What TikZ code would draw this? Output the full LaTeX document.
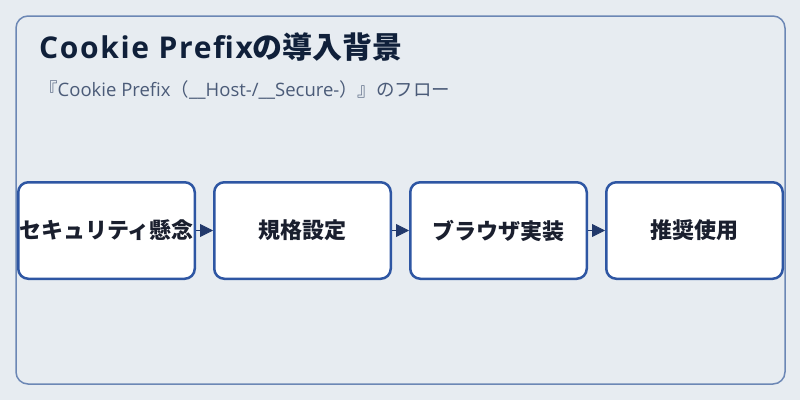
\documentclass[tikz,border=0pt]{standalone}
\usepackage{fontspec}
\setmainfont{Open Sans}
\newfontfamily\cjk{Noto Sans CJK JP}
\usetikzlibrary{arrows.meta,positioning}

\definecolor{pagebg}{HTML}{E7ECF1}
\definecolor{frameline}{HTML}{6C87B5}
\definecolor{boxline}{HTML}{2E56A3}
\definecolor{arrowcol}{HTML}{22396B}
\definecolor{titlecol}{HTML}{10203A}
\definecolor{subcol}{HTML}{4B5B78}
\definecolor{textcol}{HTML}{1A1F2E}

\tikzset{
  stage/.style={draw=boxline, line width=2.5pt, fill=white, rounded corners=10pt,
    minimum width=176.5pt, minimum height=96.5pt, inner sep=0pt,
    text=textcol, font=\cjk\fontsize{22}{26}\selectfont\bfseries},
  flow/.style={arrowcol, line width=0.8pt, -{Triangle[length=13pt,width=13pt]}}
}

\begin{document}
\begin{tikzpicture}[x=1pt, y=-1pt, node distance=17pt]
  % Page and frame
  \useasboundingbox[fill=pagebg] (0,0) rectangle (800,400);
  \draw[frameline, line width=1.5pt, rounded corners=12pt] (16,16) rectangle (785,384);

  % Heading
  \node[anchor=base west, inner sep=0pt, text=titlecol, font=\fontsize{30}{34}\selectfont\bfseries]
    (title) at (39,58) {{\addfontfeatures{LetterSpace=5.5}Cookie Prefix}{\cjk の導入背景}};
  \node[anchor=base west, inner sep=0pt, text=subcol, font=\fontsize{18.5}{22}\selectfont]
    (subtitle) at (39,96) {{\cjk 『}Cookie Prefix{\cjk （}\_\_Host-/\_\_Secure-{\cjk ）』のフロー}};

  % The four stages
  \node[stage] (concern) at (106.5,230.5) {セキュリティ懸念};
  \node[stage, right=of concern] (spec) {規格設定};
  \node[stage, right=of spec] (browser) {ブラウザ実装};
  \node[stage, right=of browser] (usage) {推奨使用};

  % Arrows between stages
  \draw[flow] (concern) -- (spec);
  \draw[flow] (spec) -- (browser);
  \draw[flow] (browser) -- (usage);
\end{tikzpicture}
\end{document}
